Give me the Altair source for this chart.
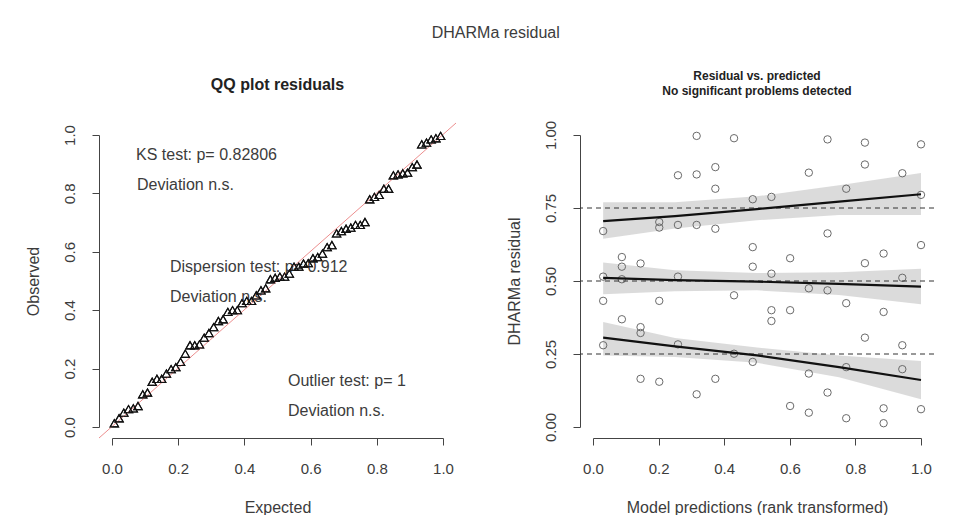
import altair as alt
import pandas as pd

# ---------------- data ----------------
rank_pred = [
    0.031, 0.031, 0.031, 0.031,
    0.088, 0.088, 0.088, 0.088,
    0.145, 0.145, 0.145, 0.145,
    0.202, 0.202, 0.202, 0.202,
    0.259, 0.259, 0.259, 0.259,
    0.316, 0.316, 0.316, 0.316,
    0.373, 0.373, 0.373, 0.373,
    0.430, 0.430, 0.430,
    0.487, 0.487, 0.487, 0.487,
    0.544, 0.544, 0.544, 0.544,
    0.601, 0.601, 0.601,
    0.658, 0.658, 0.658, 0.658,
    0.715, 0.715, 0.715, 0.715,
    0.772, 0.772, 0.772, 0.772,
    0.829, 0.829, 0.829, 0.829,
    0.886, 0.886, 0.886, 0.886,
    0.943, 0.943, 0.943, 0.943,
    1.000, 1.000, 1.000, 1.000,
]
resid = [
    0.671, 0.515, 0.432, 0.280,
    0.582, 0.549, 0.506, 0.369,
    0.560, 0.342, 0.322, 0.165,
    0.702, 0.683, 0.432, 0.155,
    0.862, 0.692, 0.515, 0.283,
    0.997, 0.865, 0.692, 0.112,
    0.890, 0.816, 0.679, 0.165,
    0.989, 0.451, 0.251,
    0.780, 0.616, 0.549, 0.223,
    0.788, 0.525, 0.400, 0.363,
    0.578, 0.400, 0.072,
    0.871, 0.475, 0.183, 0.049,
    0.985, 0.663, 0.468, 0.118,
    0.816, 0.424, 0.205, 0.030,
    0.974, 0.899, 0.561, 0.306,
    0.594, 0.394, 0.064, 0.013,
    0.869, 0.511, 0.280, 0.198,
    0.968, 0.795, 0.623, 0.061,
]

q_levels = [0.25, 0.5, 0.75]
q_x = [0.031, 0.25, 0.5, 0.75, 1.0]
q25_fit = [0.306, 0.276, 0.245, 0.205, 0.161]
q25_lo = [0.245, 0.240, 0.220, 0.170, 0.095]
q25_hi = [0.360, 0.305, 0.272, 0.245, 0.226]
q50_fit = [0.511, 0.503, 0.498, 0.490, 0.481]
q50_lo = [0.455, 0.465, 0.468, 0.452, 0.420]
q50_hi = [0.563, 0.537, 0.527, 0.530, 0.542]
q75_fit = [0.705, 0.722, 0.746, 0.772, 0.797]
q75_lo = [0.645, 0.680, 0.708, 0.726, 0.726]
q75_hi = [0.770, 0.770, 0.790, 0.828, 0.870]

qq_ticks = [0.0, 0.2, 0.4, 0.6, 0.8, 1.0]
res_ticks = [0.0, 0.25, 0.5, 0.75, 1.0]

note_texts = [
    "KS test: p= 0.82806", "Deviation  n.s.",
    "Dispersion test: p= 0.912", "Deviation  n.s.",
    "Outlier test: p= 1", "Deviation  n.s.",
]

# ---------------- tables ----------------
res_df = pd.DataFrame({"pred": rank_pred, "resid": resid})
fits = {0.25: (q25_fit, q25_lo, q25_hi), 0.5: (q50_fit, q50_lo, q50_hi), 0.75: (q75_fit, q75_lo, q75_hi)}
rows = []
for q in q_levels:
    f, lo, hi = fits[q]
    for i, x in enumerate(q_x):
        rows.append({"q": str(q), "x": x, "fit": f[i], "lo": lo[i], "hi": hi[i]})
q_df = pd.DataFrame(rows)
lvl_df = pd.DataFrame({"level": q_levels})
one_df = pd.DataFrame({"k": [0]})

# ---------------- styling ----------------
FONT = "Liberation Sans"
TXT = "#3c3c3c"
W1, W2, H = 357, 354, 315


def axis(title, values, fmt, vertical=False):
    kw = dict(
        title=title, values=values, format=fmt, grid=False,
        domain=True, domainColor="#444", domainWidth=1,
        ticks=True, tickSize=7, tickColor="#444", tickWidth=1,
        labelFont=FONT, labelFontSize=15, labelColor=TXT,
        titleFont=FONT, titleFontSize=16, titleColor=TXT, titleFontWeight="normal",
        labelFlush=False, labelOverlap=False,
    )
    if vertical:
        kw.update(labelAngle=270, labelAlign="center", labelBaseline="bottom",
                  labelPadding=15, titlePadding=21)
    else:
        kw.update(labelPadding=16, titlePadding=23)
    return alt.Axis(**kw)


# ---------------- left: QQ plot ----------------
xl = alt.Scale(domain=[0, 1], range=[13, 344], nice=False, zero=False)
yl = alt.Scale(domain=[0, 1], range=[304, 12], nice=False, zero=False)

qq_base = alt.Chart(res_df).transform_window(
    rank="row_number()", sort=[alt.SortField("resid", order="ascending")]
).transform_joinaggregate(n="count()").transform_calculate(
    expected="(datum.rank - 0.5) / datum.n"
)

diag = alt.Chart(one_df).mark_rule(color="#ec8e8e", strokeWidth=1).encode(
    x=alt.value(0), y=alt.value(H), x2=alt.value(W1), y2=alt.value(0)
)

qq_pts = qq_base.mark_point(shape="triangle-up", filled=False, color="#111",
                            size=70, strokeWidth=1.1, opacity=1).encode(
    x=alt.X("expected:Q", scale=xl, axis=axis("Expected", qq_ticks, ".1f")),
    y=alt.Y("resid:Q", scale=yl, axis=axis("Observed", qq_ticks, ".1f", vertical=True)),
)


def note(i, px, py):
    return alt.Chart(pd.DataFrame({"t": [note_texts[i]]})).mark_text(
        align="left", baseline="middle", font=FONT, fontSize=16, color=TXT
    ).encode(text="t:N", x=alt.value(px), y=alt.value(py))


left = alt.layer(
    qq_pts, diag,
    note(0, 37, 32),
    note(1, 38, 62),
    note(2, 71, 144),
    note(3, 71, 174),
    note(4, 189, 258),
    note(5, 189, 288),
    qq_pts,
).properties(
    width=W1, height=H,
    title=alt.TitleParams("QQ plot residuals", font=FONT, fontSize=16, fontWeight="bold",
                          color="#222", anchor="middle", offset=30),
)

# ---------------- right: residual vs predicted ----------------
xr = alt.Scale(domain=[0, 1], range=[13, 341], nice=False, zero=False)
yr = alt.Scale(domain=[0, 1], range=[304, 12], nice=False, zero=False)

bands = alt.Chart(q_df).mark_area(color="#bdbdbd", opacity=0.55).encode(
    x=alt.X("x:Q", scale=xr, axis=axis("Model predictions (rank transformed)", qq_ticks, ".1f")),
    y=alt.Y("lo:Q", scale=yr, axis=axis("DHARMa residual", res_ticks, ".2f", vertical=True)),
    y2="hi:Q",
    detail="q:N",
)
dashes = alt.Chart(lvl_df).mark_rule(color="#333", strokeWidth=1, strokeDash=[5, 4]).encode(
    y=alt.Y("level:Q", scale=yr)
)
lines = alt.Chart(q_df).mark_line(color="#111", strokeWidth=2.2).encode(
    x=alt.X("x:Q", scale=xr), y=alt.Y("fit:Q", scale=yr), detail="q:N"
)
circles = alt.Chart(res_df).mark_point(shape="circle", filled=False, color="#6a6a6a",
                                       size=55, strokeWidth=1, opacity=1).encode(
    x=alt.X("pred:Q", scale=xr), y=alt.Y("resid:Q", scale=yr)
)

right = alt.layer(bands, circles, dashes, lines).properties(
    width=W2, height=H,
    title=alt.TitleParams(["Residual vs. predicted", "No significant problems detected"],
                          font=FONT, fontSize=12, fontWeight="bold", lineHeight=15,
                          color="#222", anchor="middle", offset=22),
)

chart = alt.hconcat(left, right, spacing=124, bounds="flush").properties(
    title=alt.TitleParams("DHARMa residual", font=FONT, fontSize=16, fontWeight="normal",
                          color=TXT, anchor="middle", offset=29, dx=16),
    padding={"left": 25, "top": 25, "right": 29, "bottom": 0},
    background="white",
).configure_view(stroke=None)

chart.save("out.html", embed_options={"renderer": "svg", "actions": False})
